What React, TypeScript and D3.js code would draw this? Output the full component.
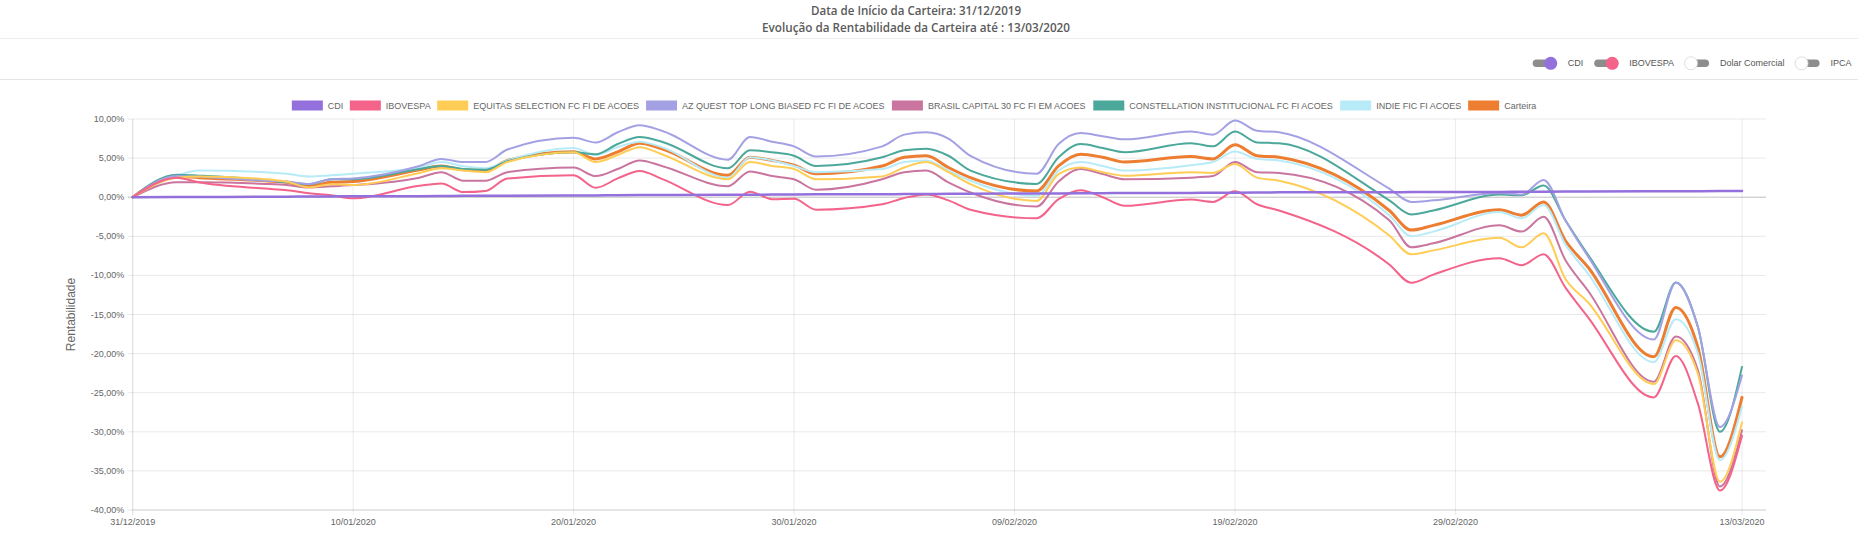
import React from 'react';
import * as d3 from 'd3';

// ---------- DATA ----------
const dates = [
  '2019-12-31',
  '2020-01-02', '2020-01-03', '2020-01-06', '2020-01-07', '2020-01-08', '2020-01-09', '2020-01-10',
  '2020-01-13', '2020-01-14', '2020-01-15', '2020-01-16', '2020-01-17', '2020-01-20', '2020-01-21',
  '2020-01-22', '2020-01-23', '2020-01-24', '2020-01-27', '2020-01-28', '2020-01-29', '2020-01-30',
  '2020-01-31',
  '2020-02-03', '2020-02-04', '2020-02-05', '2020-02-06', '2020-02-07', '2020-02-10', '2020-02-11',
  '2020-02-12', '2020-02-13', '2020-02-14', '2020-02-17', '2020-02-18', '2020-02-19', '2020-02-20',
  '2020-02-21', '2020-02-26', '2020-02-27', '2020-02-28',
  '2020-03-02', '2020-03-03', '2020-03-04', '2020-03-05', '2020-03-06', '2020-03-09', '2020-03-10',
  '2020-03-11', '2020-03-12', '2020-03-13',
];

const cdi = [0,
  0.02, 0.03, 0.05, 0.07, 0.08, 0.10, 0.12, 0.13, 0.15, 0.17, 0.18, 0.20, 0.22, 0.23, 0.25, 0.27, 0.28, 0.30, 0.32, 0.33, 0.35, 0.37,
  0.38, 0.40, 0.42, 0.43, 0.45, 0.47, 0.48, 0.50, 0.52, 0.53, 0.55, 0.57, 0.58, 0.60, 0.62, 0.63, 0.65, 0.67,
  0.68, 0.70, 0.71, 0.72, 0.74, 0.75, 0.76, 0.77, 0.78, 0.80];

const ibovespa = [0,
  2.5, 1.9, 1.1, 0.9, 0.5, 0.25, -0.15, 1.45, 1.75, 0.65, 0.8, 2.4, 2.8, 1.2, 2.4, 3.35, 2.35, -1.0, 0.7, -0.25, -0.2, -1.6,
  -0.9, -0.1, 0.35, -0.4, -1.6, -2.7, -0.25, 0.9, 0.0, -1.1, -0.3, -0.6, 0.75, -0.9, -1.7, -8.6, -10.95, -9.9,
  -7.8, -8.7, -7.3, -11.6, -15.3, -25.6, -20.3, -26.4, -37.5, -30.5];

const equitas = [0,
  2.5, 2.66, 2.3, 1.97, 1.25, 1.67, 1.55, 3.1, 3.7, 3.4, 3.2, 4.5, 5.75, 4.5, 5.4, 6.4, 5.5, 2.3, 4.5, 4.0, 3.6, 2.3,
  2.66, 3.8, 4.5, 3.2, 1.67, -0.47, 2.96, 3.8, 3.2, 2.75, 3.2, 3.1, 4.25, 2.5, 2.1, -4.9, -7.3, -6.8,
  -5.2, -6.4, -4.6, -10.5, -13.4, -23.9, -18.3, -22.6, -36.4, -28.8];

const azQuest = [0,
  2.7, 2.6, 2.1, 2.0, 1.7, 2.3, 2.4, 4.0, 4.9, 4.5, 4.5, 6.1, 7.6, 7.0, 8.3, 9.2, 8.5, 4.8, 7.7, 7.1, 6.5, 5.2,
  6.5, 8.0, 8.3, 7.5, 5.3, 3.0, 6.8, 8.2, 7.8, 7.4, 8.4, 8.0, 9.8, 8.5, 8.3, 1.1, -0.6, -0.4,
  0.54, 0.33, 2.2, -3.0, -7.5, -18.2, -10.9, -16.6, -29.4, -22.8];

const brasilCapital = [0,
  1.9, 1.9, 1.7, 1.55, 1.25, 1.4, 1.55, 2.5, 3.2, 2.1, 2.1, 3.2, 3.8, 2.7, 3.6, 4.7, 4.0, 1.4, 3.3, 2.7, 2.3, 0.95,
  2.3, 3.2, 3.4, 1.9, 0.6, -1.2, 2.0, 3.6, 2.96, 2.3, 2.5, 2.7, 4.5, 3.2, 3.1, -2.95, -6.4, -5.9,
  -3.6, -4.4, -2.5, -8.1, -11.9, -23.6, -17.8, -22.1, -37.0, -29.8];

const constellation = [0,
  2.88, 2.75, 2.2, 1.9, 1.67, 2.3, 2.3, 3.6, 4.0, 3.6, 3.5, 4.6, 5.75, 5.5, 6.8, 7.7, 7.1, 3.7, 6.0, 5.75, 5.3, 4.0,
  5.1, 6.0, 6.2, 5.3, 3.4, 1.7, 5.1, 6.8, 6.3, 5.75, 6.9, 6.5, 8.4, 7.0, 6.9, -0.4, -2.2, -1.7,
  0.33, 0.24, 1.5, -3.0, -7.3, -17.2, -10.9, -16.6, -30.0, -21.7];

const indie = [0,
  2.75, 3.4, 3.2, 3.0, 2.66, 2.8, 3.0, 3.8, 4.5, 3.95, 3.7, 4.7, 6.3, 5.4, 6.4, 7.1, 6.4, 2.5, 5.1, 4.7, 4.0, 3.2,
  3.6, 4.5, 4.7, 3.4, 2.1, 0.17, 3.4, 4.5, 4.0, 3.4, 4.1, 4.5, 5.85, 4.9, 4.7, -2.3, -5.0, -4.4,
  -1.9, -2.7, -1.0, -6.1, -9.7, -21.1, -15.6, -20.0, -33.6, -26.8];

const carteira = [0,
  2.66, 2.5, 2.1, 1.9, 1.4, 1.9, 2.0, 3.5, 4.0, 3.5, 3.4, 4.7, 5.8, 4.9, 5.8, 6.9, 6.2, 2.8, 5.1, 4.7, 4.1, 3.0,
  4.0, 5.1, 5.3, 3.8, 2.5, 0.8, 4.0, 5.5, 5.1, 4.5, 5.2, 4.9, 6.7, 5.3, 5.1, -1.7, -4.2, -3.6,
  -1.6, -2.3, -0.6, -5.6, -8.9, -20.4, -14.1, -19.2, -33.2, -25.6];

const seriesNames = [
  'CDI', 'IBOVESPA', 'EQUITAS SELECTION FC FI DE ACOES', 'AZ QUEST TOP LONG BIASED FC FI DE ACOES',
  'BRASIL CAPITAL 30 FC FI EM ACOES', 'CONSTELLATION INSTITUCIONAL FC FI ACOES', 'INDIE FIC FI ACOES', 'Carteira',
];
const seriesValues = [cdi, ibovespa, equitas, azQuest, brasilCapital, constellation, indie, carteira];
const seriesColors = ['#9370db', '#f3638a', '#ffcd56', '#a3a1e3', '#c9759f', '#4ba89a', '#b8ebf8', '#ed7d31'];
const seriesWidths = [2.5, 2, 2, 2, 2, 2, 2, 3];

const yTicks = [10, 5, 0, -5, -10, -15, -20, -25, -30, -35, -40];
const xTicks = ['2019-12-31', '2020-01-10', '2020-01-20', '2020-01-30', '2020-02-09', '2020-02-19', '2020-02-29', '2020-03-13'];

const toggleLabels = ['CDI', 'IBOVESPA', 'Dolar Comercial', 'IPCA'];
const toggleOn = [true, true, false, false];
const toggleColors = ['#9370db', '#f3638a', '#ffffff', '#ffffff'];

const titleLines = ['Data de Início da Carteira: 31/12/2019', 'Evolução da Rentabilidade da Carteira até : 13/03/2020'];
const yAxisTitle = 'Rentabilidade';

// ---------- helpers ----------
let measureCtx: CanvasRenderingContext2D | null = null;
function measure(text: string, font: string): number {
  if (!measureCtx) {
    const c = document.createElement('canvas');
    measureCtx = c.getContext('2d');
  }
  if (!measureCtx) return text.length * 5;
  measureCtx.font = font;
  return measureCtx.measureText(text).width;
}

const FONT = 'Liberation Sans, Arial, Helvetica, sans-serif';

export default function App() {
  const W = 1858;
  const H = 541;
  const parse = d3.utcParse('%Y-%m-%d');
  const dateObjs = dates.map((d) => parse(d) as Date);
  const fmt = d3.utcFormat('%d/%m/%Y');

  const plotLeft = 132.7;
  const plotRight = 1766;
  const plotTop = 119;
  const plotBottom = 510;

  const x = d3.scaleUtc()
    .domain([parse('2019-12-31') as Date, parse('2020-03-13') as Date])
    .range([plotLeft, 1742]);
  const y = d3.scaleLinear().domain([-40, 10]).range([plotBottom, plotTop]);

  const yFmt = (v: number) => v.toFixed(2).replace('.', ',') + '%';

  const line = d3.line<number>()
    .x((_, i) => x(dateObjs[i]))
    .y((d) => y(d))
    .curve(d3.curveMonotoneX);

  // legend layout
  const legendFont = `9px ${FONT}`;
  const boxW = 31;
  const boxGap = 5;
  const itemGap = 6.5;
  const legendWidths = seriesNames.map((n) => boxW + boxGap + measure(n, legendFont));
  const legendTotal = legendWidths.reduce((a, b) => a + b, 0) + itemGap * (seriesNames.length - 1);
  let lx = 914 - legendTotal / 2;
  const legendItems = seriesNames.map((n, i) => {
    const item = { name: n, x: lx, color: seriesColors[i] };
    lx += legendWidths[i] + itemGap;
    return item;
  });
  const legendY = 105.5;

  // toggles layout
  const trackW = 24;
  let tx = 1532.7;
  const toggles = toggleLabels.map((label, i) => {
    const item = { label, x: tx, on: toggleOn[i], color: toggleColors[i] };
    tx += trackW + 11 + measure(label, legendFont) + 11;
    return item;
  });
  const toggleY = 63.3;

  const drawOrder = seriesValues.map((_, i) => i).reverse();

  return (
    <svg
      width={W}
      height={H}
      style={{ position: 'absolute', left: 0, top: 0, background: '#fff' }}
      fontFamily={FONT}
    >
      <rect x={0} y={0} width={W} height={H} fill="#fff" />

      {/* title */}
      <text x={916} y={14.5} textAnchor="middle" fontFamily="Open Sans, sans-serif" fontWeight={600} fontSize={12.5}
        fill="#5a5a5a" textLength={210} lengthAdjust="spacingAndGlyphs">{titleLines[0]}</text>
      <text x={916} y={32} textAnchor="middle" fontFamily="Open Sans, sans-serif" fontWeight={600} fontSize={12.5}
        fill="#5a5a5a" textLength={308} lengthAdjust="spacingAndGlyphs">{titleLines[1]}</text>

      <line x1={0} x2={W} y1={38.5} y2={38.5} stroke="#ececec" />
      <line x1={0} x2={W} y1={79.5} y2={79.5} stroke="#e4e4e4" />

      {/* toggles */}
      {toggles.map((t) => (
        <g key={t.label}>
          <rect x={t.x} y={toggleY - 3.8} width={trackW} height={7.6} rx={3.8} fill="#8d8d8d" />
          <circle
            cx={t.on ? t.x + trackW - 6 : t.x + 6}
            cy={toggleY}
            r={6.5}
            fill={t.color}
            stroke={t.on ? 'none' : '#d6d6d6'}
            strokeWidth={0.8}
          />
          <text x={t.x + trackW + 11} y={toggleY} dominantBaseline="central" fontSize={9} fill="#555">{t.label}</text>
        </g>
      ))}

      {/* legend */}
      {legendItems.map((it) => (
        <g key={it.name}>
          <rect x={it.x} y={legendY - 5} width={boxW} height={10} fill={it.color} />
          <text x={it.x + boxW + boxGap} y={legendY} dominantBaseline="central" fontSize={9} fill="#666">{it.name}</text>
        </g>
      ))}

      {/* horizontal grid + y ticks */}
      {yTicks.map((v) => (
        <g key={'y' + v}>
          <line
            x1={plotLeft - 5}
            x2={plotRight}
            y1={y(v)}
            y2={y(v)}
            stroke={v === 0 ? 'rgba(0,0,0,0.25)' : 'rgba(0,0,0,0.09)'}
            strokeWidth={1}
          />
          <text x={plotLeft - 8.5} y={y(v)} textAnchor="end" dominantBaseline="central" fontSize={9} fill="#666">
            {yFmt(v)}
          </text>
        </g>
      ))}

      {/* vertical grid + x ticks */}
      {xTicks.map((d, i) => {
        const xd = x(parse(d) as Date);
        return (
          <g key={'x' + d}>
            <line
              x1={xd}
              x2={xd}
              y1={plotTop}
              y2={plotBottom + 5}
              stroke={i === 0 ? 'rgba(0,0,0,0.15)' : 'rgba(0,0,0,0.08)'}
            />
            <text x={xd} y={522} textAnchor="middle" dominantBaseline="central" fontSize={9} fill="#666">
              {fmt(parse(d) as Date)}
            </text>
          </g>
        );
      })}
      <line x1={plotLeft} x2={plotRight} y1={plotBottom} y2={plotBottom} stroke="rgba(0,0,0,0.12)" />

      {/* y axis title */}
      <text
        transform={`translate(71,${(plotTop + plotBottom) / 2}) rotate(-90)`}
        textAnchor="middle"
        dominantBaseline="central"
        fontSize={12}
        fill="#666"
      >
        {yAxisTitle}
      </text>

      {/* series */}
      {drawOrder.map((i) => (
        <path
          key={seriesNames[i]}
          d={line(seriesValues[i]) || ''}
          fill="none"
          stroke={seriesColors[i]}
          strokeWidth={seriesWidths[i]}
          strokeLinejoin="round"
          strokeLinecap="round"
        />
      ))}
    </svg>
  );
}
